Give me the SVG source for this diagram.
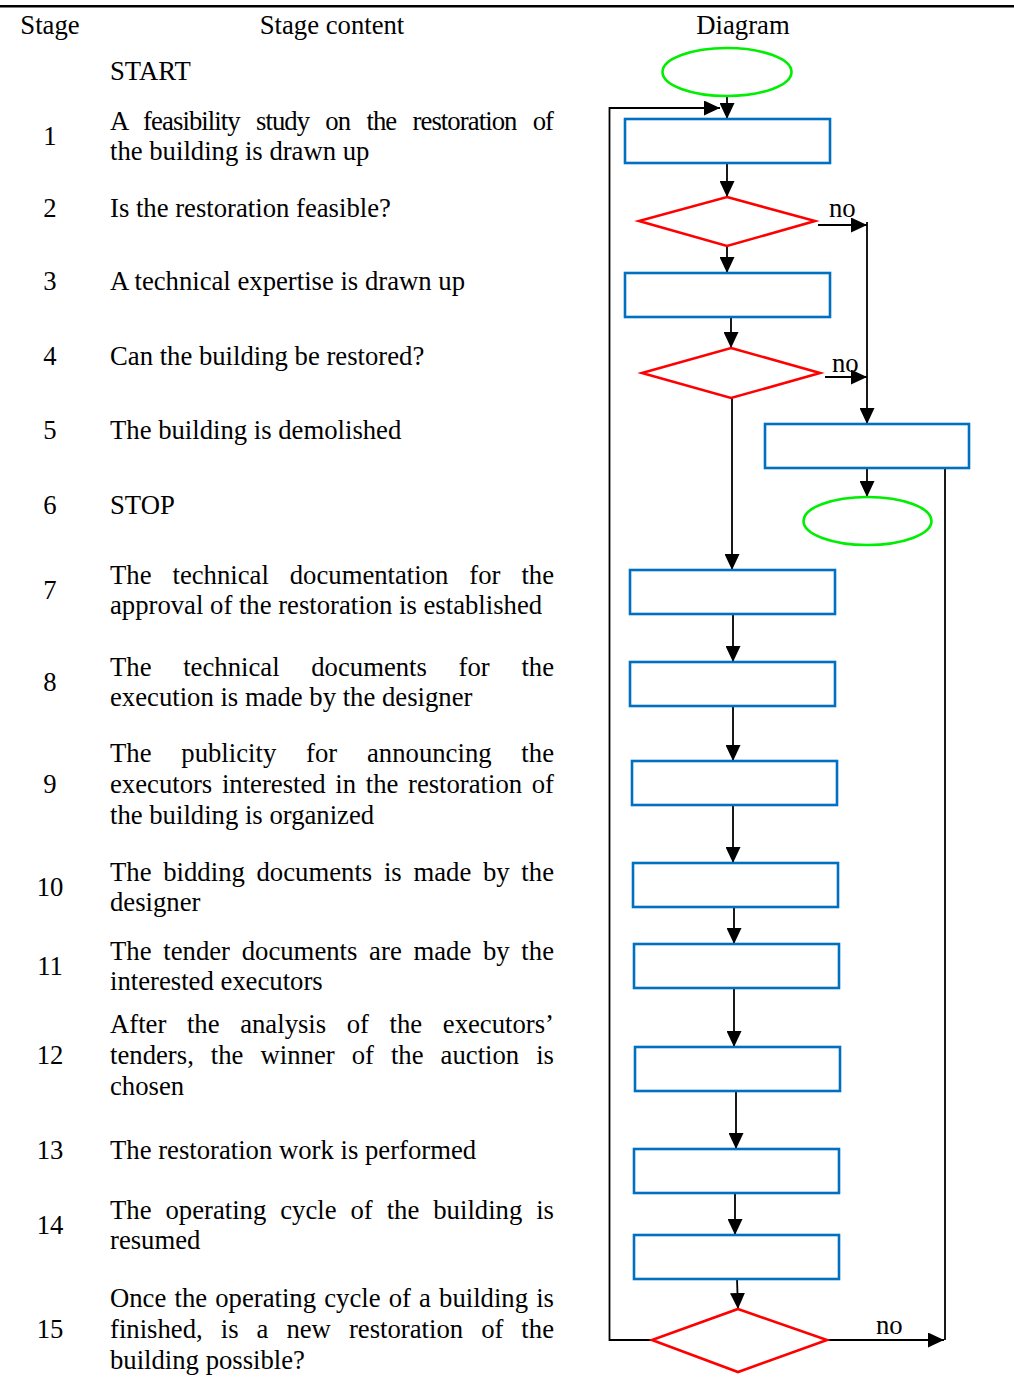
<svg xmlns="http://www.w3.org/2000/svg" width="1014" height="1389" viewBox="0 0 1014 1389">
  <style>
    text { font-family: "Liberation Serif", "Times New Roman", serif; font-size: 26.7px; fill: #000; }
    .num { text-anchor: middle; }
    .hd { text-anchor: middle; }
    .box { fill: #fff; stroke: #0070c0; stroke-width: 2.6; }
    .dec { fill: #fff; stroke: #ff0000; stroke-width: 2.6; }
    .term { fill: #fff; stroke: #00ee00; stroke-width: 2.6; }
    .ln { fill: none; stroke: #000; stroke-width: 1.8; }
    .arr { marker-end: url(#head); }
  </style>
  <defs>
    <marker id="head" markerUnits="userSpaceOnUse" markerWidth="16" markerHeight="15" refX="16" refY="7.5" orient="auto" viewBox="0 0 16 15">
      <path d="M0,0 L16,7.5 L0,15 Z" fill="#000"/>
    </marker>
  </defs>

  <rect width="1014" height="1389" fill="#fff"/>

  <!-- table rule and column headings -->
  <line x1="0" y1="6.3" x2="1014" y2="6.3" stroke="#000" stroke-width="2.4"/>
  <g id="headings">
    <text class="hd" x="50" y="34">Stage</text>
    <text class="hd" x="332" y="34">Stage content</text>
    <text class="hd" x="743" y="34">Diagram</text>
  </g>

  <!-- stage list -->
  <g id="stages">
    <g id="stage-start"><text x="110" y="80">START</text></g>
    <g id="stage-1">
      <text class="num" x="50" y="145">1</text>
      <text x="110" y="130" word-spacing="10.5" textLength="444" lengthAdjust="spacing">A feasibility study on the restoration of</text>
      <text x="110" y="160">the building is drawn up</text>
    </g>
    <g id="stage-2">
      <text class="num" x="50" y="217">2</text>
      <text x="110" y="217">Is the restoration feasible?</text>
    </g>
    <g id="stage-3">
      <text class="num" x="50" y="290">3</text>
      <text x="110" y="290">A technical expertise is drawn up</text>
    </g>
    <g id="stage-4">
      <text class="num" x="50" y="365">4</text>
      <text x="110" y="365">Can the building be restored?</text>
    </g>
    <g id="stage-5">
      <text class="num" x="50" y="439">5</text>
      <text x="110" y="439">The building is demolished</text>
    </g>
    <g id="stage-6">
      <text class="num" x="50" y="514">6</text>
      <text x="110" y="514">STOP</text>
    </g>
    <g id="stage-7">
      <text class="num" x="50" y="599">7</text>
      <text x="110" y="584" word-spacing="14.3" textLength="444" lengthAdjust="spacing">The technical documentation for the</text>
      <text x="110" y="614">approval of the restoration is established</text>
    </g>
    <g id="stage-8">
      <text class="num" x="50" y="691">8</text>
      <text x="110" y="676" word-spacing="25" textLength="444" lengthAdjust="spacing">The technical documents for the</text>
      <text x="110" y="706">execution is made by the designer</text>
    </g>
    <g id="stage-9">
      <text class="num" x="50" y="793">9</text>
      <text x="110" y="762" word-spacing="23.1" textLength="444" lengthAdjust="spacing">The publicity for announcing the</text>
      <text x="110" y="793" word-spacing="3" textLength="444" lengthAdjust="spacing">executors interested in the restoration of</text>
      <text x="110" y="824">the building is organized</text>
    </g>
    <g id="stage-10">
      <text class="num" x="50" y="896">10</text>
      <text x="110" y="881" word-spacing="5" textLength="444" lengthAdjust="spacing">The bidding documents is made by the</text>
      <text x="110" y="911">designer</text>
    </g>
    <g id="stage-11">
      <text class="num" x="50" y="975">11</text>
      <text x="110" y="960" word-spacing="5" textLength="444" lengthAdjust="spacing">The tender documents are made by the</text>
      <text x="110" y="990">interested executors</text>
    </g>
    <g id="stage-12">
      <text class="num" x="50" y="1064">12</text>
      <text x="110" y="1033" word-spacing="13.9" textLength="444" lengthAdjust="spacing">After the analysis of the executors’</text>
      <text x="110" y="1064" word-spacing="10.3" textLength="444" lengthAdjust="spacing">tenders, the winner of the auction is</text>
      <text x="110" y="1095">chosen</text>
    </g>
    <g id="stage-13">
      <text class="num" x="50" y="1159">13</text>
      <text x="110" y="1159">The restoration work is performed</text>
    </g>
    <g id="stage-14">
      <text class="num" x="50" y="1234">14</text>
      <text x="110" y="1219" word-spacing="7.3" textLength="444" lengthAdjust="spacing">The operating cycle of the building is</text>
      <text x="110" y="1249">resumed</text>
    </g>
    <g id="stage-15">
      <text class="num" x="50" y="1338">15</text>
      <text x="110" y="1307" word-spacing="1.5" textLength="444" lengthAdjust="spacing">Once the operating cycle of a building is</text>
      <text x="110" y="1338" word-spacing="11.3" textLength="444" lengthAdjust="spacing">finished, is a new restoration of the</text>
      <text x="110" y="1369">building possible?</text>
    </g>
  </g>

  <!-- flowchart connectors -->
  <g id="connectors">
    <line class="ln arr" x1="727" y1="97" x2="727" y2="119"/>
    <polyline class="ln arr" points="652,1340 609.5,1340 609.5,108 720,108"/>
    <line class="ln arr" x1="727" y1="163" x2="727" y2="197"/>
    <line class="ln arr" x1="818" y1="225" x2="867" y2="225"/>
    <line class="ln arr" x1="867" y1="222" x2="867" y2="424"/>
    <line class="ln arr" x1="727" y1="246" x2="727" y2="273"/>
    <line class="ln arr" x1="731" y1="317" x2="731" y2="348"/>
    <line class="ln arr" x1="825" y1="377" x2="867" y2="377"/>
    <line class="ln arr" x1="867" y1="468" x2="867" y2="497"/>
    <line class="ln arr" x1="732" y1="398" x2="732" y2="570"/>
    <line class="ln arr" x1="733" y1="614" x2="733" y2="662"/>
    <line class="ln arr" x1="733" y1="706" x2="733" y2="761"/>
    <line class="ln arr" x1="733" y1="805" x2="733" y2="863"/>
    <line class="ln arr" x1="734" y1="907" x2="734" y2="944"/>
    <line class="ln arr" x1="734" y1="988" x2="734" y2="1047"/>
    <line class="ln arr" x1="736" y1="1092" x2="736" y2="1149"/>
    <line class="ln arr" x1="735" y1="1193" x2="735" y2="1235"/>
    <line class="ln arr" x1="737" y1="1279" x2="738" y2="1309"/>
    <line class="ln arr" x1="827" y1="1340" x2="944" y2="1340"/>
    <line class="ln" x1="945" y1="468" x2="945" y2="1340"/>
    <text x="829" y="217">no</text>
    <text x="832" y="372">no</text>
    <text x="876" y="1334">no</text>
  </g>

  <!-- flowchart nodes -->
  <g id="n-start"><ellipse class="term" cx="727" cy="72" rx="64.5" ry="24"/></g>
  <g id="n-1"><rect class="box" x="625" y="119" width="205" height="44"/></g>
  <g id="n-2"><polygon class="dec" points="727,197 815,221 727,246 639,221"/></g>
  <g id="n-3"><rect class="box" x="625" y="273" width="205" height="44"/></g>
  <g id="n-4"><polygon class="dec" points="731,348 820,373 731,398 642,373"/></g>
  <g id="n-5"><rect class="box" x="765" y="424" width="204" height="44"/></g>
  <g id="n-6"><ellipse class="term" cx="867.5" cy="521" rx="64" ry="24"/></g>
  <g id="n-7"><rect class="box" x="630" y="570" width="205" height="44"/></g>
  <g id="n-8"><rect class="box" x="630" y="662" width="205" height="44"/></g>
  <g id="n-9"><rect class="box" x="632" y="761" width="205" height="44"/></g>
  <g id="n-10"><rect class="box" x="633" y="863" width="205" height="44"/></g>
  <g id="n-11"><rect class="box" x="634" y="944" width="205" height="44"/></g>
  <g id="n-12"><rect class="box" x="635" y="1047" width="205" height="44"/></g>
  <g id="n-13"><rect class="box" x="634" y="1149" width="205" height="44"/></g>
  <g id="n-14"><rect class="box" x="634" y="1235" width="205" height="44"/></g>
  <g id="n-15"><polygon class="dec" points="738,1309 827,1340 738,1372 652,1340"/></g>
</svg>
